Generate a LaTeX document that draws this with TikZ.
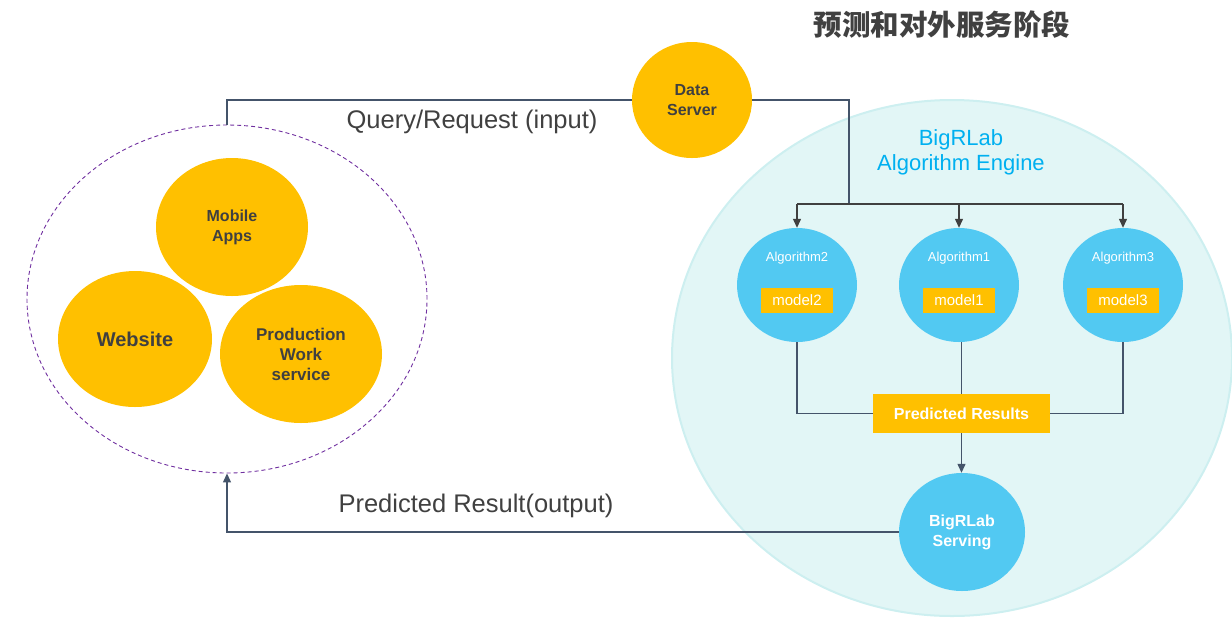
\documentclass[tikz,border=0pt]{standalone}
\usepackage{fontspec}
\setmainfont{Liberation Sans}
\newfontfamily\cjk{Noto Sans CJK SC}
\usetikzlibrary{shapes.geometric,arrows.meta}
\definecolor{gold}{HTML}{FFC000}
\definecolor{skyb}{HTML}{52C9F2}
\definecolor{engfill}{HTML}{E2F6F6}
\definecolor{engdraw}{HTML}{CDEFF0}
\definecolor{txtgray}{HTML}{404040}
\definecolor{linegray}{HTML}{44546A}
\definecolor{busgray}{HTML}{404040}
\definecolor{engtxt}{HTML}{00B0F0}
\definecolor{purp}{HTML}{7030A0}
\tikzset{
  ybub/.style={ellipse, fill=gold, text=txtgray, font=\bfseries, align=center, inner sep=0pt},
  bbub/.style={ellipse, fill=skyb, text=white, align=center, inner sep=0pt},
  gbox/.style={rectangle, fill=gold, text=white, inner sep=0pt},
  conn/.style={draw=linegray, line width=1.2pt},
  bus/.style={draw=busgray, line width=1.2pt},
  tip/.style={-{Triangle[length=9pt,width=8pt]}},
  lbl/.style={text=txtgray, font=\fontsize{25.5}{29}\selectfont}
}
\begin{document}
\begin{tikzpicture}[x=1pt,y=-1pt]
\useasboundingbox (0,0) rectangle (1232,625);
% engine background
\node[ellipse, fill=engfill, draw=engdraw, line width=2pt, minimum width=560pt, minimum height=516pt] (eng) at (952,358) {};
% title
\node[text=txtgray, font=\cjk\bfseries\fontsize{28.5}{31}\selectfont] (title) at (942,25) {预测和对外服务阶段};
% left cluster
\node[ellipse, draw=purp, dash pattern=on 4pt off 3pt, line width=0.9pt, minimum width=400pt, minimum height=348pt] (lc) at (227,299) {};
\node[ybub, minimum width=152pt, minimum height=138pt, font=\bfseries\fontsize{16}{20}\selectfont] (mob) at (232,227) {Mobile\\Apps};
\node[ybub, minimum width=154pt, minimum height=136pt, font=\bfseries\fontsize{20}{24}\selectfont] (web) at (135,339) {Website};
\node[ybub, minimum width=162pt, minimum height=138pt, font=\bfseries\fontsize{17}{20}\selectfont] (prod) at (301,354) {Production\\Work\\service};
% data server
\node[ybub, minimum width=120pt, minimum height=116pt, font=\bfseries\fontsize{16}{20}\selectfont] (ds) at (692,100) {Data\\Server};
% engine label
\node[text=engtxt, font=\fontsize{22}{25}\selectfont, align=center] (englbl) at (961,152) {BigRLab\\Algorithm Engine};
% algorithms
\node[bbub, minimum width=120pt, minimum height=114pt] (a2) at (797,285) {};
\node[bbub, minimum width=120pt, minimum height=114pt] (a1) at (959,285) {};
\node[bbub, minimum width=120pt, minimum height=114pt] (a3) at (1123,285) {};
\node[text=white, font=\fontsize{13}{15}\selectfont] (a2t) at (797,258) {Algorithm2};
\node[text=white, font=\fontsize{13}{15}\selectfont] (a1t) at (959,258) {Algorithm1};
\node[text=white, font=\fontsize{13}{15}\selectfont] (a3t) at (1123,258) {Algorithm3};
\node[gbox, minimum width=72pt, minimum height=25pt, font=\fontsize{15}{17}\selectfont] (m2) at (797,300) {model2};
\node[gbox, minimum width=72pt, minimum height=25pt, font=\fontsize{15}{17}\selectfont] (m1) at (959,300) {model1};
\node[gbox, minimum width=72pt, minimum height=25pt, font=\fontsize{15}{17}\selectfont] (m3) at (1123,300) {model3};
% predicted results
\node[gbox, minimum width=177pt, minimum height=39pt, font=\bfseries\fontsize{16}{19}\selectfont] (pr) at (961.5,413.5) {Predicted Results};
% serving
\node[bbub, minimum width=126pt, minimum height=118pt, font=\bfseries\fontsize{16}{20}\selectfont] (srv) at (962,532) {BigRLab\\Serving};
% labels
\node[lbl] (qlbl) at (472,122) {Query/Request (input)};
\node[lbl] (plbl) at (476,506) {Predicted Result(output)};
% connectors
\coordinate (busr) at (849,204);
\draw[conn] (lc.north) |- (ds);
\draw[conn] (ds) -| (busr);
\draw[bus] (a2.north |- busr) -- (a3.north |- busr);
\draw[bus, tip] (a2.north |- busr) -- (a2.north);
\draw[bus, tip] (a1.north |- busr) -- (a1.north);
\draw[bus, tip] (a3.north |- busr) -- (a3.north);
\draw[conn] (a2.south) |- (pr.west);
\draw[conn] (pr.north) -- (pr.north |- a1.south);
\draw[conn] (a3.south) |- (pr.east);
\draw[conn, tip] (pr.south) -- (pr.south |- srv.north);
\draw[conn, tip] (srv.west) -| (lc.south);
\end{tikzpicture}
\end{document}
